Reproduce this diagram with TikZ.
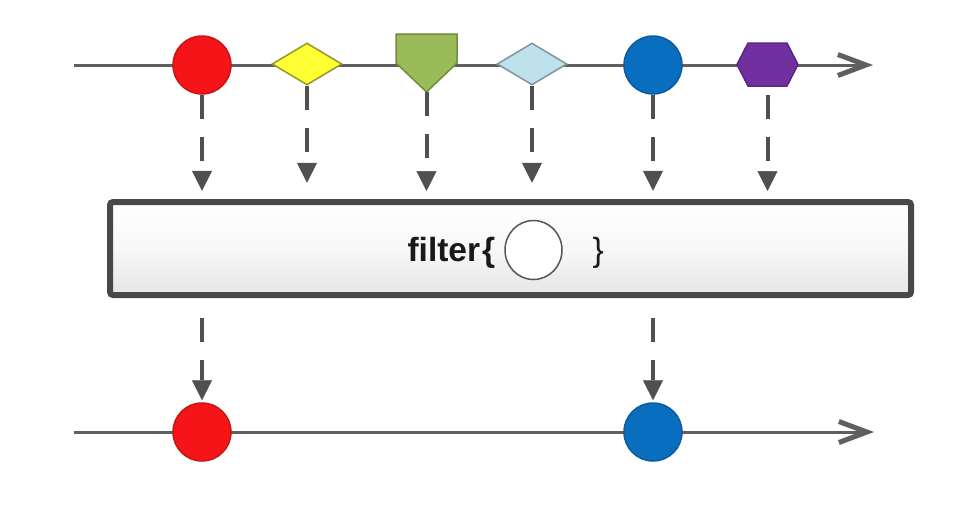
\documentclass[tikz,border=0pt]{standalone}
\usepackage{fontspec}
\setmainfont{Liberation Sans}
\usetikzlibrary{arrows.meta,shapes.geometric}

\definecolor{axisgray}{RGB}{95,95,95}
\definecolor{flowgray}{RGB}{80,80,80}
\definecolor{boxline}{RGB}{72,72,72}
\definecolor{redfill}{RGB}{245,20,24}
\definecolor{redline}{RGB}{200,20,20}
\definecolor{yellowfill}{RGB}{255,255,51}
\definecolor{yellowline}{RGB}{150,150,40}
\definecolor{greenfill}{RGB}{155,187,89}
\definecolor{greenline}{RGB}{112,140,62}
\definecolor{icefill}{RGB}{190,225,235}
\definecolor{iceline}{RGB}{128,148,155}
\definecolor{bluefill}{RGB}{10,110,190}
\definecolor{blueline}{RGB}{12,90,160}
\definecolor{purplefill}{RGB}{112,48,160}
\definecolor{purpleline}{RGB}{90,38,130}
\definecolor{slotline}{RGB}{85,85,85}

\begin{document}
\begin{tikzpicture}[x=1pt,y=-1pt,
  timeline/.style={draw=axisgray, line width=3pt,
    -{Straight Barb[length=28pt,width=21pt,line width=5pt 0]}},
  flow/.style={draw=flowgray, line width=4pt, dash pattern=on 24pt off 18pt,
    -{Triangle[length=20pt,width=20pt,line width=0.5pt]}},
  dot/.style={circle, minimum size=58pt, inner sep=0pt, line width=1.5pt},
  gem/.style={diamond, minimum width=70pt, minimum height=42pt, inner sep=0pt,
    line width=1.5pt},
  marble/.style={line width=1.5pt, line join=miter},
  filterbox/.style={draw=boxline, line width=6pt, rounded corners=3pt,
    top color=white, bottom color=black!10, middle color=black!3,
    minimum width=801pt, minimum height=93pt, inner sep=0pt},
  label/.style={anchor=base west, text=black!90,
    font=\fontsize{33.5pt}{40pt}\selectfont}
]
\useasboundingbox (0,0) rectangle (967,504);

% source stream
\coordinate (t0) at (74,65);
\coordinate (t1) at (873,65);
\draw[timeline] (t0) -- (t1);

\node[dot, fill=redfill, draw=redline] (c1) at (202,65) {};
\node[gem, fill=yellowfill, draw=yellowline] (d1) at (307,64) {};
\draw[marble, fill=greenfill, draw=greenline]
  (396,34) -- (457,34) -- (457,63) -- (426.5,92) -- (396,63) -- cycle;
\coordinate (p1) at (426.5,92);
\node[gem, fill=icefill, draw=iceline] (d2) at (532,64) {};
\node[dot, fill=bluefill, draw=blueline] (c2) at (653,65) {};
\draw[marble, fill=purplefill, draw=purpleline]
  (737,64.5) -- (748,43) -- (787,43) -- (798,64.5) -- (787,86) -- (748,86) -- cycle;
\coordinate (h1) at (767.5,86);

% emissions flowing into the operator
\draw[flow] (c1.south) -- ++(0,96);
\draw[flow] (d1.south) -- ++(0,97);
\draw[flow] (p1) -- ++(0,99);
\draw[flow] (d2.south) -- ++(0,97);
\draw[flow] (c2.south) -- ++(0,96);
\draw[flow, shorten <=9pt] (h1) -- ++(0,105);

% operator box
\node[filterbox] (box) at (510.5,248.5) {};
\node[label] (ftxt) at (404,261) {\bfseries filter\kern2pt\{};
\node[ellipse, draw=slotline, fill=white, line width=1.5pt,
  minimum width=57pt, minimum height=59pt, inner sep=0pt] (slot) at (533.5,250) {};
\node[label] (rbr) at (589,261) {\}};

% result stream
\coordinate (b0) at (74,432);
\coordinate (b1) at (874,432);
\draw[timeline] (b0) -- (b1);

\node[dot, fill=redfill, draw=redline] (c3) at (202,432) {};
\node[dot, fill=bluefill, draw=blueline] (c4) at (653,432) {};

\draw[flow, shorten >=2pt] (c3 |- box.south) ++(0,20) -- (c3.north);
\draw[flow, shorten >=2pt] (c4 |- box.south) ++(0,20) -- (c4.north);
\end{tikzpicture}
\end{document}
